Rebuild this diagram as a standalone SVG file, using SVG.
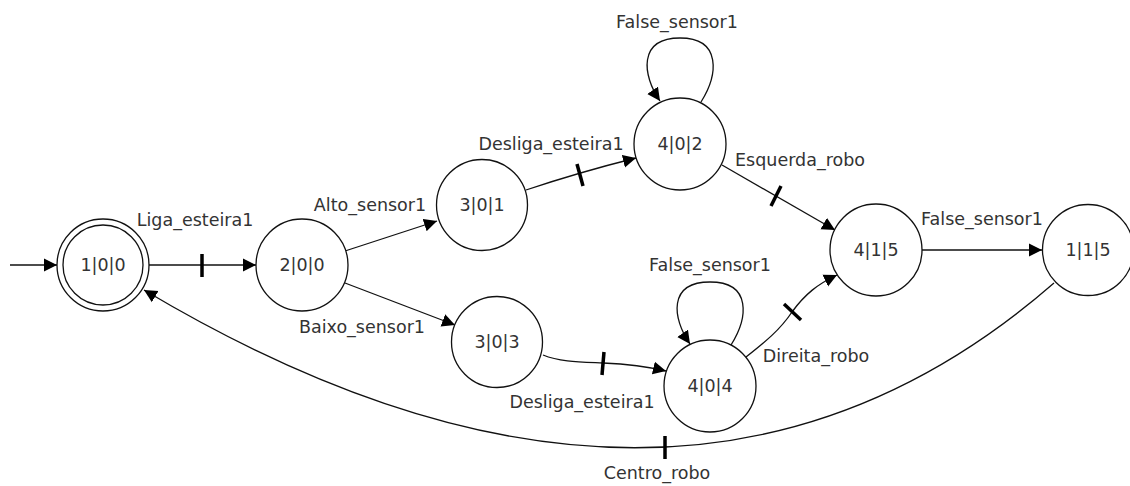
<svg xmlns="http://www.w3.org/2000/svg" width="1130" height="486" viewBox="0 0 1130 486">
<style>
.n{fill:#fff;stroke:#111;stroke-width:1.3}
.e{fill:none;stroke:#111;stroke-width:1.3}
.t{stroke:#000;stroke-width:3.5}
text{font-family:"DejaVu Sans","Liberation Sans",sans-serif;font-size:17.5px;fill:#333;text-anchor:middle}
</style>
<defs>
<marker id="arr" markerUnits="userSpaceOnUse" markerWidth="14" markerHeight="14" refX="13" refY="7" orient="auto" viewBox="0 0 14 14">
<path d="M0,0.5 L13,7 L0,13.5 z" fill="#000"/>
</marker>
</defs>
<g id="connectors">
<path class="e" d="M10,265 L57,265" marker-end="url(#arr)"/>
<path class="e" d="M149,265 L256,265" marker-end="url(#arr)"/>
<line class="t" x1="202" y1="254" x2="202" y2="277"/>
<path class="e" d="M345,251 L437,221" marker-end="url(#arr)"/>
<path class="e" d="M345,283 L455,325" marker-end="url(#arr)"/>
<path class="e" d="M526,190 Q580,172 636,158" marker-end="url(#arr)"/>
<line class="t" x1="577" y1="164" x2="583" y2="186"/>
<path class="e" d="M543,355 C560,362 580,362 603,363 S645,366 666,371" marker-end="url(#arr)"/>
<line class="t" x1="604" y1="352" x2="602" y2="375"/>
<path class="e" d="M701,102 C718,75 722,38 680,38 C638,38 642,75 660,101" marker-end="url(#arr)"/>
<path class="e" d="M731,345 C748,318 752,282 710,282 C668,282 672,318 690,344" marker-end="url(#arr)"/>
<path class="e" d="M722,165 L835,230" marker-end="url(#arr)"/>
<line class="t" x1="781" y1="186" x2="771" y2="206"/>
<path class="e" d="M746,357 C765,342 780,330 792,312 C805,294 818,284 837,275" marker-end="url(#arr)"/>
<line class="t" x1="784" y1="304" x2="801" y2="320"/>
<path class="e" d="M922,250 L1042,250" marker-end="url(#arr)"/>
<path class="e" d="M1054,283 Q680,609 144,290" marker-end="url(#arr)"/>
<line class="t" x1="665" y1="436" x2="665" y2="459"/>
</g>
<g id="n100"><circle class="n" cx="103" cy="265" r="46"/><circle class="n" cx="103" cy="265" r="40"/><text x="103" y="271">1|0|0</text></g>
<g id="n200"><circle class="n" cx="302" cy="265" r="46"/><text x="302" y="271">2|0|0</text></g>
<g id="n301"><circle class="n" cx="482" cy="205" r="45.5"/><text x="482" y="211">3|0|1</text></g>
<g id="n303"><circle class="n" cx="497" cy="342" r="45.5"/><text x="497" y="348">3|0|3</text></g>
<g id="n402"><circle class="n" cx="680" cy="144" r="46"/><text x="680" y="150">4|0|2</text></g>
<g id="n404"><circle class="n" cx="710" cy="386" r="46"/><text x="710" y="392">4|0|4</text></g>
<g id="n415"><circle class="n" cx="876" cy="250" r="46"/><text x="876" y="256">4|1|5</text></g>
<g id="n115"><circle class="n" cx="1088" cy="250" r="45.5"/><text x="1088" y="256">1|1|5</text></g>
<g id="labels">
<text x="195" y="226">Liga_esteira1</text>
<text x="370" y="211">Alto_sensor1</text>
<text x="362" y="333">Baixo_sensor1</text>
<text x="551" y="150">Desliga_esteira1</text>
<text x="677" y="28">False_sensor1</text>
<text x="800" y="166">Esquerda_robo</text>
<text x="982" y="225">False_sensor1</text>
<text x="710" y="271">False_sensor1</text>
<text x="816" y="362">Direita_robo</text>
<text x="582" y="408">Desliga_esteira1</text>
<text x="657" y="479">Centro_robo</text>
</g>
</svg>
